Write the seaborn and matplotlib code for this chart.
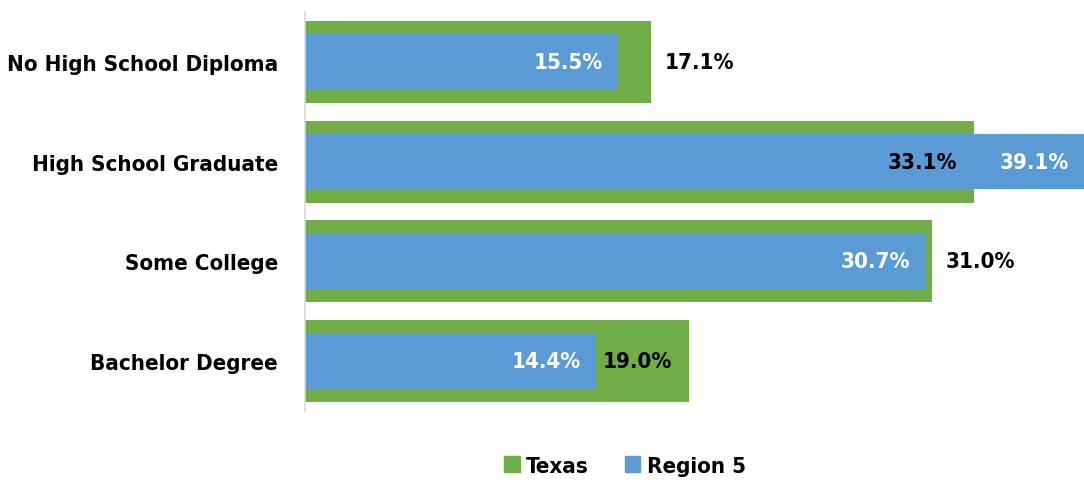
import matplotlib
matplotlib.use("Agg")
import matplotlib.pyplot as plt
import seaborn as sns
import pandas as pd
from matplotlib.patches import Patch

categories = ["No High School Diploma", "High School Graduate", "Some College", "Bachelor Degree"]
texas = [17.1, 33.1, 31.0, 19.0]
region5 = [15.5, 39.1, 30.7, 14.4]

# where the Texas labels sit relative to the green bar end
texas_label_pos = ["outside", "inside", "outside", "inside"]

green = "#70AD47"
blue = "#5B9BD5"

sns.set_theme(style="white")
plt.rcParams["font.family"] = ["DejaVu Sans"]
plt.rcParams["font.stretch"] = "condensed"
plt.rcParams["font.weight"] = "bold"

df = pd.DataFrame({"cat": categories, "Texas": texas, "Region 5": region5})

fig = plt.figure(figsize=(10.84, 4.81), dpi=100)
ax = fig.add_axes([305 / 1084, 69 / 481, 779 / 1084, 399 / 481])

sns.barplot(data=df, x="Texas", y="cat", color=green, width=0.82, saturation=1,
            linewidth=0, ax=ax)
sns.barplot(data=df, x="Region 5", y="cat", color=blue, width=0.55, saturation=1,
            linewidth=0, ax=ax)

xmax = 38.54
ax.set_xlim(0, xmax)
ax.set_ylim(3.5, -0.5)

fs = 16
for i, (t, r) in enumerate(zip(texas, region5)):
    rx = min(r, xmax) - 0.75
    ax.text(rx, i, f"{r:.1f}%", ha="right", va="center", color="white",
            fontsize=fs, fontweight="bold")
    if texas_label_pos[i] == "outside":
        ax.text(t + 0.7, i, f"{t:.1f}%", ha="left", va="center", color="black",
                fontsize=fs, fontweight="bold")
    else:
        ax.text(t - 0.84, i, f"{t:.1f}%", ha="right", va="center", color="black",
                fontsize=fs, fontweight="bold")

ax.set_xlabel("")
ax.set_ylabel("")
ax.set_xticks([])
for s in ["top", "right", "bottom"]:
    ax.spines[s].set_visible(False)
ax.spines["left"].set_color("#d9d9d9")
ax.spines["left"].set_linewidth(1.2)

ax.tick_params(axis="y", which="major", length=0, pad=19.5, labelsize=fs)
ax.set_yticks([-0.5, 0.5, 1.5, 2.5, 3.5], minor=True)
ax.tick_params(axis="y", which="minor", length=6, color="#d9d9d9", width=1.2)
for lab in ax.get_yticklabels():
    lab.set_fontweight("bold")
    lab.set_color("black")

handles = [Patch(color=green, label="Texas"), Patch(color=blue, label="Region 5")]
leg = fig.legend(handles=handles, loc="center", bbox_to_anchor=(625 / 1084, 1 - 467 / 481),
                 ncol=2, frameon=False, prop={"size": fs, "weight": "bold"},
                 handlelength=0.7, handleheight=0.7, handletextpad=0.3, columnspacing=1.6)
for txt in leg.get_texts():
    txt.set_color("black")

fig.savefig("out.png", dpi=100)
